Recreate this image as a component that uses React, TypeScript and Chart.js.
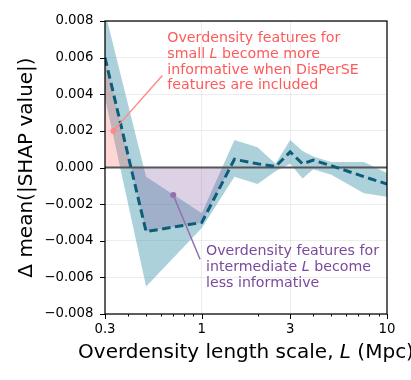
import React, { useEffect, useRef } from 'react';
import { Chart, registerables } from 'chart.js';

Chart.register(...registerables);

// ---- data ----
const lengthScales = [0.3, 0.5, 1, 1.5, 2, 2.5, 3, 3.5, 4, 5, 7.5, 10];
const meanDelta = [0.006, -0.0035, -0.003, 0.00045, 0.0002, 0.00005, 0.00085, 0.0002, 0.0004, 0.0001, -0.0005, -0.0009];
const bandUpper = [0.0085, -0.0005, -0.0025, 0.0015, 0.0011, 0.0002, 0.0015, 0.0009, 0.0006, 0.0003, 0.0003, -0.0003];
const bandLower = [0.0038, -0.0065, -0.0033, -0.0005, -0.0009, -0.0002, 0.0002, -0.0006, -0.0001, -0.0004, -0.0014, -0.0016];

const xTickValues = [0.3, 0.4, 0.5, 0.6, 0.7, 0.8, 0.9, 1, 2, 3, 4, 5, 6, 7, 8, 9, 10];
const xLabelled = [0.3, 1, 3, 10];
const xGridValues = [1, 3];

const xTitle: [string, boolean][] = [['Overdensity length scale, ', false], ['L', true], [' (Mpc)', false]];
const yTitle = 'Δ mean(|SHAP value|)';

const pinkNote: [string, boolean][][] = [
  [['Overdensity features for', false]],
  [['small ', false], ['L', true], [' become more', false]],
  [['informative when DisPerSE', false]],
  [['features are included', false]],
];
const purpleNote: [string, boolean][][] = [
  [['Overdensity features for', false]],
  [['intermediate ', false], ['L', true], [' become', false]],
  [['less informative', false]],
];
// annotation anchors in data units: [L, value]
const pinkTextAt = [0.651, 0.00685];
const pinkArrowFrom = [0.612, 0.00503];
const pinkArrowTo = [0.333, 0.002];
const purpleTextAt = [1.053, -0.00478];
const purpleArrowFrom = [0.978, -0.00501];
const purpleArrowTo = [0.701, -0.0015];

const FONT = '"DejaVu Sans"';
const LINE_COLOR = '#0d5c78';
const BAND_COLOR = 'rgba(50,140,165,0.4)';
const PINK_FILL = 'rgba(255,90,90,0.25)';
const PURPLE_FILL = 'rgba(120,70,150,0.25)';
const PINK_TEXT = '#ff5a5a';
const PINK_ARROW = '#ff8a8a';
const PURPLE_TEXT = '#7a4a9c';
const PURPLE_ARROW = '#9470ad';

function richWidth(ctx: CanvasRenderingContext2D, segs: [string, boolean][], size: number) {
  let w = 0;
  for (const [t, it] of segs) {
    ctx.font = `${it ? 'italic ' : ''}${size}px ${FONT}`;
    w += ctx.measureText(t).width;
  }
  return w;
}
function drawRich(ctx: CanvasRenderingContext2D, segs: [string, boolean][], x: number, y: number, size: number, color: string) {
  let cx = x;
  ctx.fillStyle = color;
  ctx.textBaseline = 'alphabetic';
  ctx.textAlign = 'left';
  for (const [t, it] of segs) {
    ctx.font = `${it ? 'italic ' : ''}${size}px ${FONT}`;
    ctx.fillText(t, cx, y);
    cx += ctx.measureText(t).width;
  }
}

const decorPlugin = {
  id: 'decor',
  afterDatasetDraw(chart: any, args: any) {
    if (args.index !== 1) return;
    const { ctx, chartArea: a, scales } = chart;
    const y0 = scales.y.getPixelForValue(0);
    ctx.save();
    ctx.strokeStyle = '#555555';
    ctx.lineWidth = 2;
    ctx.beginPath();
    ctx.moveTo(a.left, y0);
    ctx.lineTo(a.right, y0);
    ctx.stroke();
    ctx.restore();
  },
  afterDraw(chart: any) {
    const { ctx, chartArea: a, scales } = chart;
    const xs = scales.x, ys = scales.y;
    ctx.save();
    // frame
    ctx.strokeStyle = '#000';
    ctx.lineWidth = 1.25;
    ctx.strokeRect(a.left, a.top, a.right - a.left, a.bottom - a.top);
    // tick marks
    ctx.lineWidth = 1;
    ctx.beginPath();
    for (const t of ys.ticks) {
      const p = Math.round(ys.getPixelForValue(t.value)) + 0.5;
      ctx.moveTo(a.left - 5, p);
      ctx.lineTo(a.left, p);
    }
    for (const t of xs.ticks) {
      const p = Math.round(xs.getPixelForValue(t.value)) + 0.5;
      const len = xLabelled.includes(t.value) ? 5 : 2.5;
      ctx.moveTo(p, a.bottom);
      ctx.lineTo(p, a.bottom + len);
    }
    ctx.stroke();

    // arrows
    const arrow = (from: number[], to: number[], color: string) => {
      const fx = xs.getPixelForValue(from[0]), fy = ys.getPixelForValue(from[1]);
      const tx = xs.getPixelForValue(to[0]), ty = ys.getPixelForValue(to[1]);
      ctx.strokeStyle = color;
      ctx.lineWidth = 1.5;
      ctx.beginPath();
      ctx.moveTo(fx, fy);
      ctx.lineTo(tx, ty);
      ctx.stroke();
      ctx.fillStyle = color;
      ctx.beginPath();
      ctx.arc(tx, ty, 3, 0, Math.PI * 2);
      ctx.fill();
    };
    arrow(pinkArrowFrom, pinkArrowTo, PINK_ARROW);
    arrow(purpleArrowFrom, purpleArrowTo, PURPLE_ARROW);

    // notes
    const noteSize = 14.2, lh = 15.8;
    const px = xs.getPixelForValue(pinkTextAt[0]), py = ys.getPixelForValue(pinkTextAt[1]);
    pinkNote.forEach((line, i) => drawRich(ctx, line, px, py + i * lh, noteSize, PINK_TEXT));
    const qx = xs.getPixelForValue(purpleTextAt[0]), qy = ys.getPixelForValue(purpleTextAt[1]);
    purpleNote.forEach((line, i) => drawRich(ctx, line, qx, qy + i * lh, noteSize, PURPLE_TEXT));

    // axis titles
    const tSize = 20;
    const w = richWidth(ctx, xTitle, tSize);
    const cx = (a.left + a.right) / 2;
    drawRich(ctx, xTitle, cx - w / 2, 358, tSize, '#000');

    ctx.translate(31.7, (a.top + a.bottom) / 2);
    ctx.rotate(-Math.PI / 2);
    ctx.font = `${tSize}px ${FONT}`;
    ctx.fillStyle = '#000';
    ctx.textAlign = 'center';
    ctx.textBaseline = 'alphabetic';
    ctx.fillText(yTitle, 0, 0);
    ctx.restore();
  },
};

function fmtY(v: number) {
  const a = Math.abs(v) < 1e-12 ? 0 : v;
  return (a < 0 ? '\u2212' : '') + Math.abs(a).toFixed(3);
}

export default function App() {
  const ref = useRef<HTMLCanvasElement>(null);
  useEffect(() => {
    document.body.style.margin = '0';
    const canvas = ref.current!;
    const pts = (ys: number[]) => lengthScales.map((x, i) => ({ x, y: ys[i] }));
    const crossing = (i: number) => {
      const a = Math.log10(lengthScales[i]);
      const b = Math.log10(lengthScales[i + 1]);
      const t = meanDelta[i] / (meanDelta[i] - meanDelta[i + 1]);
      return Math.pow(10, a + t * (b - a));
    };
    const c1 = crossing(0);
    const c2 = crossing(2);
    const pinkData = [{ x: lengthScales[0], y: meanDelta[0] }, { x: c1, y: 0 }];
    const purpleData = [
      { x: c1, y: 0 },
      { x: lengthScales[1], y: meanDelta[1] },
      { x: lengthScales[2], y: meanDelta[2] },
      { x: c2, y: 0 },
    ];

    Chart.defaults.font.family = FONT;
    const chart = new Chart(canvas, {
      type: 'line',
      data: {
        datasets: [
          {
            data: pts(meanDelta),
            borderColor: LINE_COLOR,
            borderWidth: 3,
            borderDash: [8.5, 4.5],
            borderCapStyle: 'butt',
            pointRadius: 0,
            fill: false,
            tension: 0,
          },
          {
            data: purpleData,
            borderWidth: 0,
            borderColor: 'rgba(0,0,0,0)',
            backgroundColor: PURPLE_FILL,
            pointRadius: 0,
            fill: { value: 0 },
          },
          {
            data: pinkData,
            borderWidth: 0,
            borderColor: 'rgba(0,0,0,0)',
            backgroundColor: PINK_FILL,
            pointRadius: 0,
            fill: { value: 0 },
          },
          {
            data: pts(bandUpper),
            borderWidth: 0,
            borderColor: 'rgba(0,0,0,0)',
            backgroundColor: BAND_COLOR,
            pointRadius: 0,
            fill: '+1',
          },
          {
            data: pts(bandLower),
            borderWidth: 0,
            borderColor: 'rgba(0,0,0,0)',
            pointRadius: 0,
            fill: false,
          },
        ],
      } as any,
      options: {
        responsive: false,
        animation: false,
        devicePixelRatio: 1,
        layout: { padding: { top: 21, right: 24, left: 0, bottom: 0 } },
        plugins: { legend: { display: false }, tooltip: { enabled: false } },
        events: [],
        scales: {
          x: {
            type: 'logarithmic',
            min: 0.3,
            max: 10,
            afterBuildTicks: (s: any) => {
              s.ticks = xTickValues.map((v) => ({ value: v }));
            },
            afterFit: (s: any) => {
              s.height = 66;
            },
            ticks: {
              autoSkip: false,
              maxRotation: 0,
              minRotation: 0,
              padding: 8,
              color: '#000',
              font: { family: FONT, size: 13.3 },
              callback: (v: any) => (xLabelled.includes(Number(v)) ? String(v) : ''),
            },
            grid: {
              drawTicks: false,
              lineWidth: 1,
              color: (c: any) => (c.tick && xGridValues.includes(c.tick.value) ? 'rgba(0,0,0,0.07)' : 'rgba(0,0,0,0)'),
            },
            border: { display: false },
          },
          y: {
            min: -0.008,
            max: 0.008,
            afterFit: (s: any) => {
              s.width = 105;
            },
            ticks: {
              stepSize: 0.002,
              padding: 11.5,
              color: '#000',
              font: { family: FONT, size: 13.3 },
              callback: (v: any) => fmtY(Number(v)),
            },
            grid: { drawTicks: false, lineWidth: 1, color: 'rgba(0,0,0,0.07)' },
            border: { display: false },
          },
        },
      } as any,
      plugins: [decorPlugin],
    });
    return () => chart.destroy();
  }, []);
  return (
    <div style={{ width: 411, height: 380 }}>
      <canvas ref={ref} width={411} height={380} style={{ display: 'block' }} />
    </div>
  );
}
